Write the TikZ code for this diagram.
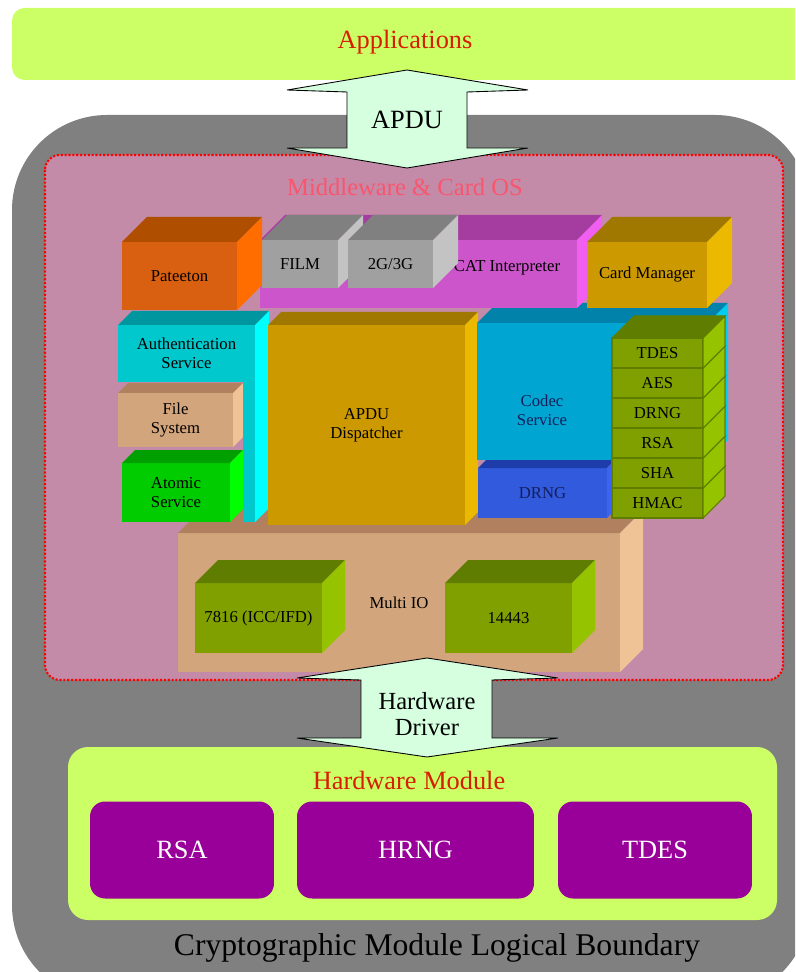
\documentclass[tikz,border=0pt]{standalone}
\usepackage{fontspec}
\setmainfont{Liberation Serif}
\usetikzlibrary{calc}

% colours: F = front face, T = top face, S = side face
\definecolor{bound}{RGB}{128,128,128}
\definecolor{appgreen}{RGB}{204,255,102}
\definecolor{mauve}{RGB}{195,139,168}
\definecolor{mwred}{RGB}{250,85,110}
\definecolor{headred}{RGB}{215,30,0}
\definecolor{arrowmint}{RGB}{214,255,224}
\definecolor{hwpurple}{RGB}{153,0,153}
\definecolor{navy}{RGB}{20,30,90}
\definecolor{orngF}{RGB}{217,96,16}   \definecolor{orngT}{RGB}{176,78,0}    \definecolor{orngS}{RGB}{255,108,0}
\definecolor{greyF}{RGB}{160,160,160} \definecolor{greyT}{RGB}{128,128,128} \definecolor{greyS}{RGB}{195,195,195}
\definecolor{plumF}{RGB}{204,85,204}  \definecolor{plumT}{RGB}{165,60,160}  \definecolor{plumS}{RGB}{240,95,240}
\definecolor{goldF}{RGB}{204,153,0}   \definecolor{goldT}{RGB}{160,120,0}   \definecolor{goldS}{RGB}{235,185,0}
\definecolor{turqF}{RGB}{0,200,205}   \definecolor{turqT}{RGB}{0,150,160}   \definecolor{turqS}{RGB}{0,255,255}
\definecolor{skyF}{RGB}{0,165,210}    \definecolor{skyT}{RGB}{0,130,170}    \definecolor{skyS}{RGB}{0,205,240}
\definecolor{tanF}{RGB}{210,165,125}  \definecolor{tanT}{RGB}{176,128,95}   \definecolor{tanS}{RGB}{240,195,150}
\definecolor{limeF}{RGB}{0,204,0}     \definecolor{limeT}{RGB}{0,160,0}     \definecolor{limeS}{RGB}{0,255,0}
\definecolor{olvF}{RGB}{128,160,0}    \definecolor{olvT}{RGB}{95,125,0}     \definecolor{olvS}{RGB}{150,195,0}
\definecolor{blueF}{RGB}{50,90,220}   \definecolor{blueT}{RGB}{30,60,170}   \definecolor{blueS}{RGB}{60,100,240}

% 3D block: [extra]{name}{x1}{y1}{x2}{y2}{depth}{colour}{text}
\newcommand{\solidblock}[9][]{%
  \node[blockface, fill=#8F, #1, minimum width={((#5)-(#3))*0.02cm}, minimum height={((#6)-(#4))*0.02cm}]
    (#2) at ({((#3)+(#5))/2},{((#4)+(#6))/2}) {#9};
  \fill[#8T, #1] (#2.north west) -- ++(#7,-#7) -- ([shift={(#7,-#7)}]#2.north east) -- (#2.north east) -- cycle;
  \fill[#8S, #1] (#2.north east) -- ++(#7,-#7) -- ([shift={(#7,-#7)}]#2.south east) -- (#2.south east) -- cycle;
}

\begin{document}
\begin{tikzpicture}[
        x=0.02cm, y=-0.02cm,
        blockface/.style={rectangle, inner sep=0pt, outer sep=0pt, align=center, font=\fontsize{9.5}{11}\selectfont},
        hwbox/.style={rectangle, rounded corners=0.3cm, fill=hwpurple, text=white, inner sep=0pt, font=\fontsize{15}{17}\selectfont},
        bigarrow/.style={draw=black, line width=0.5pt, fill=arrowmint},
        headtext/.style={text=headred, font=\fontsize{15}{17}\selectfont},
        mwframe/.style={fill=mauve, draw=red, densely dotted, line width=1.2pt, rounded corners=0.3cm}
    ]
    \useasboundingbox (0,0) rectangle (795,972);
    \clip (0,0) rectangle (795,972);

    % outer boundary and applications bar
    \fill[bound, rounded corners=1.9cm] (12,115) rectangle (810,1000);
    \fill[appgreen, rounded corners=0.25cm] (12,8) rectangle (815,80);
    \node[headtext] (apps) at (405,42) {Applications};

    % middleware area
    \draw[mwframe] (45,155) rectangle (783,680);
    \node[text=mwred, font=\fontsize{14}{16}\selectfont] (mw) at (405,187) {Middleware \& Card OS};

    % bottom layer
    \solidblock{multiio}{178}{533}{620}{672}{23}{tan}{Multi IO}
    \solidblock{iso7816}{195}{583}{322}{653}{23}{olv}{7816 (ICC/IFD)}
    \solidblock{iso14443}{445}{583}{572}{653}{23}{olv}{14443}

    % middle layer
    \solidblock{atomic}{122}{463}{230}{522}{13}{lime}{Atomic\\Service}
    \solidblock{filesys}{118}{393}{233}{447}{10}{tan}{File\\System}
    \solidblock{authleg}{243}{325}{255}{522}{13}{turq}{}
    \solidblock{auth}{118}{325}{255}{382}{14}{turq}{Authentication\\Service}
    \solidblock{dispatch}{268}{325}{465}{525}{13}{gold}{APDU\\Dispatcher}
    \solidblock{drng}{478}{468}{607}{518}{8}{blue}{\textcolor{navy}{DRNG}}
    \solidblock{codecblk}{477}{323}{708}{460}{20}{sky}{}
    \node[blockface, text=navy] (codec) at (542,410) {Codec\\Service};
    \foreach \lab [count=\i from 0] in {HMAC,SHA,RSA,DRNG,AES,TDES}
        \solidblock[draw=olvT, line width=0.6pt]{alg\i}{612}{(488-30*\i)}{703}{(518-30*\i)}{22}{olv}{\lab};

    % top layer
    \solidblock{catslab}{260}{240}{577}{308}{25}{plum}{}
    \node[blockface] (cat) at (507,268) {CAT Interpreter};
    \solidblock{film}{262}{240}{338}{288}{25}{grey}{FILM}
    \solidblock{gsm}{348}{240}{433}{288}{25}{grey}{2G/3G}
    \solidblock{pateeton}{122}{242}{237}{310}{25}{orng}{Pateeton}
    \solidblock{cardmgr}{587}{242}{707}{308}{25}{gold}{Card Manager}

    % hardware module
    \fill[appgreen, rounded corners=0.4cm] (68,747) rectangle (777,920);
    \node[headtext] (hwmod) at (409,780) {Hardware Module};
    \node[hwbox, minimum width=3.68cm, minimum height=1.94cm] (rsa) at (182,850) {RSA};
    \node[hwbox, minimum width=4.74cm, minimum height=1.94cm] (hrng) at (415.5,850) {HRNG};
    \node[hwbox, minimum width=3.88cm, minimum height=1.94cm] (tdes) at (655,850) {TDES};

    % interface arrows
    \draw[bigarrow] (407,70) -- (528,90) -- (467,92) -- (467,148) -- (528,148) -- (407,168)
        -- (287,148) -- (347,148) -- (347,92) -- (287,90) -- cycle;
    \node[font=\fontsize{15}{17}\selectfont] (apdu) at (407,120) {APDU};
    \draw[bigarrow] (427,658) -- (558,678) -- (492,680) -- (492,738) -- (558,738) -- (427,757)
        -- (297,738) -- (361,738) -- (361,680) -- (297,678) -- cycle;
    \node[align=center, font=\fontsize{14}{14.5}\selectfont] (hwdrv) at (427,714) {Hardware\\Driver};

    \node[font=\fontsize{18}{20}\selectfont] (boundary) at (437,948) {Cryptographic Module Logical Boundary};
\end{tikzpicture}
\end{document}
